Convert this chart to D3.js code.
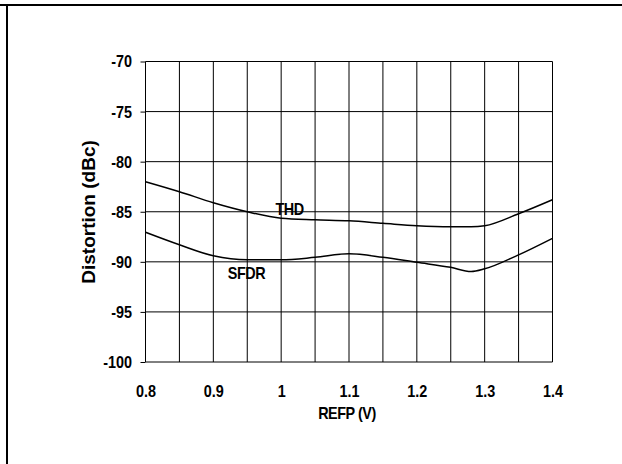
<!DOCTYPE html>
<html>
<head>
<meta charset="utf-8">
<script src="https://cdn.jsdelivr.net/npm/d3@7"></script>
<style>
  html, body { margin: 0; padding: 0; background: #fff; }
  svg { display: block; }
  text { font-family: "Liberation Sans", Arial, sans-serif; font-weight: bold; fill: #000; }
</style>
</head>
<body>
<svg id="chart" width="622" height="464"></svg>
<script>
// REFP sweep (V)
const refp = [0.8, 0.85, 0.9, 0.95, 1.0, 1.05, 1.1, 1.15, 1.2, 1.25, 1.28, 1.3, 1.35, 1.4];
// Total harmonic distortion (dBc)
const thd  = [-82.0, -83.0, -84.1, -85.0, -85.65, -85.8, -85.9, -86.15, -86.4, -86.5, -86.5, -86.4, -85.2, -83.8];
// Spurious-free dynamic range (dBc)
const sfdr = [-87.05, -88.3, -89.4, -89.8, -89.8, -89.55, -89.2, -89.55, -90.05, -90.55, -90.97, -90.7, -89.3, -87.65];

const xTicks = [0.8, 0.9, 1.0, 1.1, 1.2, 1.3, 1.4];
const xTickLabels = ["0.8", "0.9", "1", "1.1", "1.2", "1.3", "1.4"];
const yTicks = [-70, -75, -80, -85, -90, -95, -100];
const yTickLabels = ["-70", "-75", "-80", "-85", "-90", "-95", "-100"];
const xGrid = d3.range(0.8, 1.4001, 0.05);

const svg = d3.select("#chart");
const plot = { left: 145.5, right: 552.5, top: 61.5, bottom: 362 };
const squeeze = 0.9;   // narrow the bold face slightly

const x = d3.scaleLinear().domain([0.8, 1.4]).range([plot.left, plot.right]);
const y = d3.scaleLinear().domain([-100, -70]).range([plot.bottom, plot.top]);

// Frame lines around the figure
svg.append("line").attr("x1", 0).attr("x2", 622).attr("y1", 5).attr("y2", 5)
  .attr("stroke", "#000").attr("stroke-width", 2);
svg.append("line").attr("x1", 7).attr("x2", 7).attr("y1", 4).attr("y2", 464)
  .attr("stroke", "#000").attr("stroke-width", 2);

// Grid
const grid = svg.append("g").attr("stroke", "#000").attr("stroke-width", 1);
grid.selectAll("line.v").data(xGrid).join("line").attr("class", "v")
  .attr("x1", d => x(d)).attr("x2", d => x(d))
  .attr("y1", plot.top).attr("y2", plot.bottom);
grid.selectAll("line.h").data(yTicks).join("line").attr("class", "h")
  .attr("x1", plot.left).attr("x2", plot.right)
  .attr("y1", d => y(d)).attr("y2", d => y(d));

// Y axis
const yAxis = d3.axisLeft(y).tickValues(yTicks).tickSize(5)
  .tickFormat((d, i) => yTickLabels[i]);
const yg = svg.append("g").attr("transform", `translate(${plot.left},0)`).call(yAxis);
yg.select(".domain").remove();
yg.selectAll("line").attr("stroke", "#000");
yg.selectAll("text")
  .attr("x", -13.5 / squeeze).attr("dy", "0.34em")
  .attr("transform", `scale(${squeeze},1)`)
  .style("font-size", "16px").style("font-family", "Liberation Sans, Arial, sans-serif").style("font-weight", "bold");

// X axis labels
const xAxis = d3.axisBottom(x).tickValues(xTicks).tickSize(0)
  .tickFormat((d, i) => xTickLabels[i]);
const xg = svg.append("g").attr("transform", `translate(0,${plot.bottom})`).call(xAxis);
xg.select(".domain").remove();
xg.selectAll("text")
  .attr("y", 35).attr("dy", 0)
  .attr("transform", `scale(${squeeze},1)`)
  .attr("x", 0)
  .style("font-size", "16px").style("font-family", "Liberation Sans, Arial, sans-serif").style("font-weight", "bold");

// Axis titles
svg.append("text").attr("transform", `translate(347,419) scale(${squeeze},1)`).attr("text-anchor", "middle")
  .style("font-size", "16px").style("letter-spacing", "-0.5px").text("REFP (V)");
svg.append("text").attr("transform", `translate(95,212) rotate(-90)`).attr("text-anchor", "middle")
  .style("font-size", "19px").text("Distortion (dBc)");

// Curves
const line = d3.line().x(d => x(d[0])).y(d => y(d[1])).curve(d3.curveMonotoneX);
[thd, sfdr].forEach(series => {
  svg.append("path").datum(refp.map((v, i) => [v, series[i]]))
    .attr("d", line).attr("fill", "none").attr("stroke", "#000").attr("stroke-width", 1.5);
});

// Series labels
svg.append("text").attr("transform", `translate(289.5,215) scale(${squeeze},1)`).attr("text-anchor", "middle")
  .style("font-size", "16px").style("letter-spacing", "-0.5px").text("THD");
svg.append("text").attr("transform", `translate(246.5,279) scale(${squeeze},1)`).attr("text-anchor", "middle")
  .style("font-size", "16px").style("letter-spacing", "-0.5px").text("SFDR");
</script>
</body>
</html>
